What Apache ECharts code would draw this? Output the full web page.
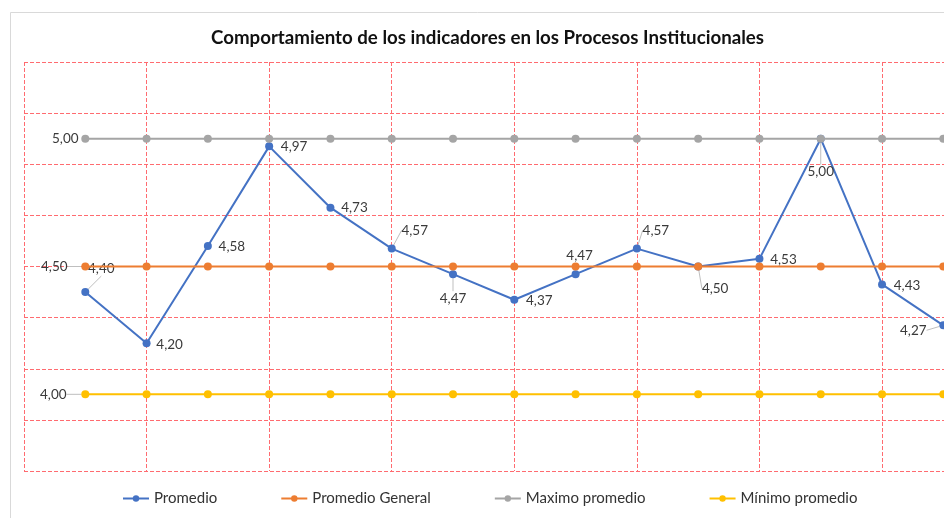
<!DOCTYPE html>
<html>
<head>
<meta charset="utf-8">
<script src="https://cdn.jsdelivr.net/npm/echarts@6/dist/echarts.min.js"></script>
<style>
html,body{margin:0;padding:0;background:#fff;}
#chart{width:944px;height:518px;}
</style>
</head>
<body>
<div id="chart"></div>
<script>
// ---- data ----
const categories = ['1','2','3','4','5','6','7','8','9','10','11','12','13','14','15'];
const promedio = [4.40, 4.20, 4.58, 4.97, 4.73, 4.57, 4.47, 4.37, 4.47, 4.57, 4.50, 4.53, 5.00, 4.43, 4.27];
const promedioGeneral = [4.50, 4.50, 4.50, 4.50, 4.50, 4.50, 4.50, 4.50, 4.50, 4.50, 4.50, 4.50, 4.50, 4.50, 4.50];
const maximoPromedio = [5.00, 5.00, 5.00, 5.00, 5.00, 5.00, 5.00, 5.00, 5.00, 5.00, 5.00, 5.00, 5.00, 5.00, 5.00];
const minimoPromedio = [4.00, 4.00, 4.00, 4.00, 4.00, 4.00, 4.00, 4.00, 4.00, 4.00, 4.00, 4.00, 4.00, 4.00, 4.00];
const seriesNames = ['Promedio', 'Promedio General', 'Maximo promedio', 'Mínimo promedio'];
const titleText = 'Comportamiento de los indicadores en los Procesos Institucionales';

// ---- label placement (style only) ----
const promLabelShift = [
  [16,-23,true],[23,1,false],[24,1,false],[25,0,false],[24,0,false],
  [23,-18,true],[0,24,true],[25,1,false],[4,-19,false],[19,-18,true],
  [17,22,true],[24,1,false],[0,33,true],[25,1,false],[-30,5,true]
];
const refLabelShift = { 'Promedio General': [-31,0,true], 'Maximo promedio': [-20,0,false], 'Mínimo promedio': [-32,0,true] };

const FONT = 'Lato, "Open Sans", sans-serif';
const fmt = p => (typeof p.value === 'number' ? p.value : Number(p.value)).toFixed(2).replace('.', ',');
const xData = [''].concat(categories).concat(['']);

function buildProm() {
  const d = ['-'];
  promedio.forEach((v, i) => {
    d.push({ value: v, labelLine: { show: promLabelShift[i][2] } });
  });
  return d;
}
function buildRef(vals, name) {
  const d = ['-'];
  vals.forEach((v, i) => {
    if (i === 0) d.push({ value: v, label: { show: true }, labelLine: { show: refLabelShift[name][2] } });
    else d.push({ value: v });
  });
  return d;
}

const colors = ['#4472C4', '#ED7D31', '#A5A5A5', '#FFC000'];
const labelStyle = { color: '#3a3a3a', fontSize: 13.5, fontFamily: FONT, position: 'inside', formatter: fmt };
const lineGuide = { lineStyle: { color: '#bfbfbf', width: 1 }, smooth: false };
const gridLine = { color: '#ff6b70', type: [4, 2], width: 1 };

const chart = echarts.init(document.getElementById('chart'), null, { renderer: 'canvas' });
chart.setOption({
  animation: false,
  backgroundColor: '#fff',
  color: colors,
  graphic: [{
    type: 'rect', left: 8, top: 10, shape: { width: 1000, height: 600 },
    style: { fill: 'none', stroke: '#d9d9d9', lineWidth: 1 }, silent: true, z: -1
  }],
  title: {
    text: titleText, left: 206, top: 23,
    textStyle: { fontFamily: FONT, fontSize: 18.7, fontWeight: 'bold', color: '#111' }
  },
  legend: {
    data: seriesNames, top: 491, left: 122, padding: 0, itemWidth: 26, itemHeight: 8, itemGap: 63,
    textStyle: { fontFamily: FONT, fontSize: 15, color: '#333' }
  },
  grid: { left: 24, top: 62, bottom: 47, right: -60.6, outerBoundsMode: 'none', containLabel: false },
  xAxis: {
    type: 'category', data: xData, boundaryGap: false,
    axisLine: { show: false }, axisTick: { show: false }, axisLabel: { show: false },
    splitLine: { show: true, interval: 1, lineStyle: gridLine }
  },
  yAxis: [
    { type: 'value', min: 3.7, max: 5.3, show: true, axisLine: { show: false }, axisTick: { show: false },
      axisLabel: { show: false }, splitLine: { show: false } },
    { type: 'value', min: 0, max: 16, interval: 2, position: 'left', axisLine: { show: false }, axisTick: { show: false },
      axisLabel: { show: false }, splitLine: { show: true, lineStyle: gridLine } }
  ],
  series: [
    {
      name: seriesNames[0], type: 'line', yAxisIndex: 0, data: buildProm(),
      symbol: 'circle', symbolSize: 8, lineStyle: { width: 2 },
      label: Object.assign({ show: true }, labelStyle),
      labelLine: lineGuide,
      labelLayout: p => { const s = promLabelShift[p.dataIndex - 1]; return s ? { dx: s[0], dy: s[1] } : {}; },
      z: 3
    },
    ...[[promedioGeneral, 1], [maximoPromedio, 2], [minimoPromedio, 3]].map(([vals, k]) => ({
      name: seriesNames[k], type: 'line', yAxisIndex: 0, data: buildRef(vals, seriesNames[k]),
      symbol: 'circle', symbolSize: 8, lineStyle: { width: 2 },
      label: Object.assign({ show: false }, labelStyle),
      labelLine: lineGuide,
      labelLayout: p => { const s = refLabelShift[seriesNames[k]]; return p.dataIndex === 1 ? { dx: s[0], dy: s[1] } : {}; },
      z: 3 + k
    }))
  ]
});
</script>
</body>
</html>
